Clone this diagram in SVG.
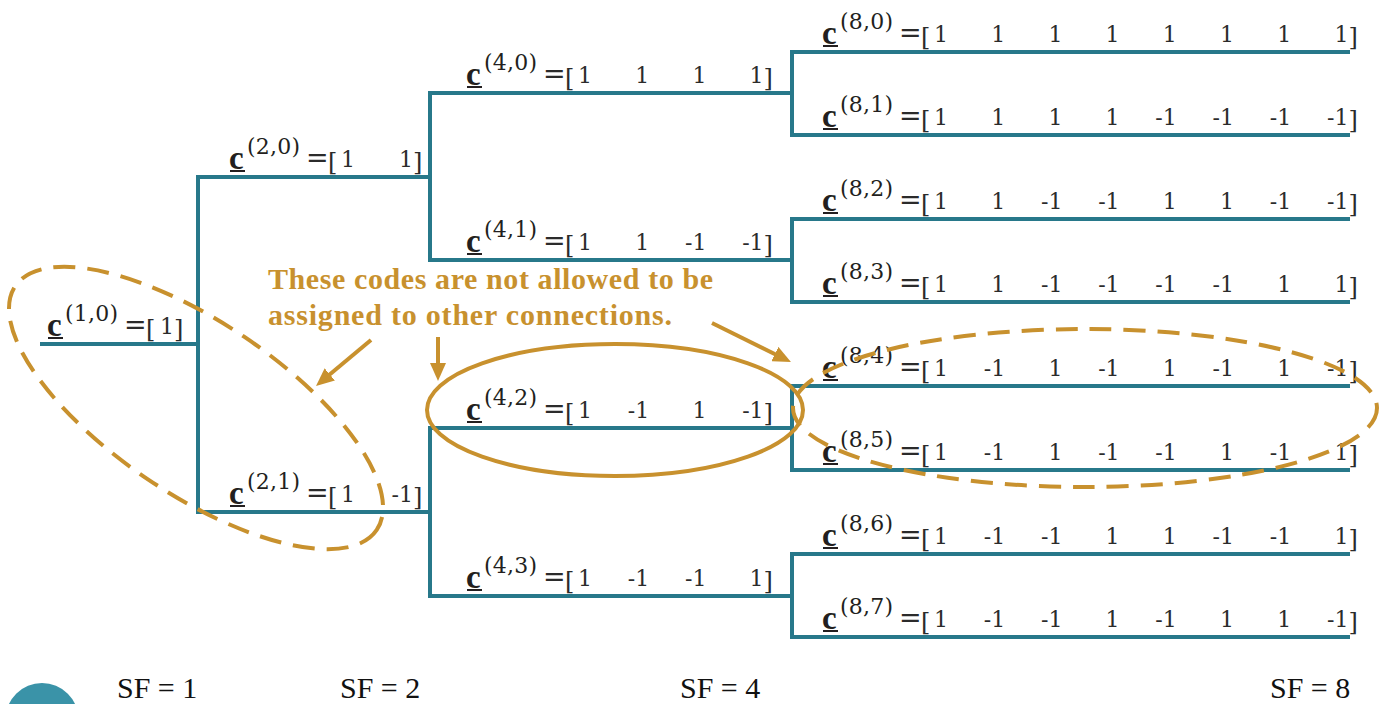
<svg xmlns="http://www.w3.org/2000/svg" width="1384" height="704" viewBox="0 0 1384 704">
<style>
.tree{fill:none;stroke:#27788a;stroke-width:4;stroke-linejoin:miter}
.c{font-family:"Liberation Serif","Times New Roman",serif;font-weight:bold;font-size:33px;fill:#231f20}
.ul{fill:#231f20}
.sup{font-family:"DejaVu Serif",serif;font-size:22px;fill:#231f20}
.eq{font-family:"DejaVu Serif",serif;font-size:27px;fill:#2b2b2b}
.br{font-family:"DejaVu Serif",serif;font-size:24px;fill:#2b2b2b}
.num{font-family:"DejaVu Serif",serif;font-size:22px;fill:#2b2b2b;text-anchor:end}
.note{font-family:"Liberation Serif","Times New Roman",serif;font-weight:bold;font-size:30px;fill:#c8912e}
.gold{fill:none;stroke:#c8912e;stroke-width:4}
.dash{stroke-dasharray:22 12}
.sf{font-family:"Liberation Serif","Times New Roman",serif;font-size:30px;fill:#111}
</style>
<defs>
<marker id="ah" markerUnits="userSpaceOnUse" markerWidth="18" markerHeight="16" refX="6" refY="8" orient="auto">
<path d="M0,0 L18,8 L0,16 z" fill="#c8912e"/>
</marker>
</defs>

<g id="connectors">
<path class="tree" d="M40,344 H198"/>
<path class="tree" d="M430,177 H198 V512 H430"/>
<path class="tree" d="M792,93 H430 V260 H792"/>
<path class="tree" d="M792,428 H430 V596 H792"/>
<path class="tree" d="M1350,52 H792 V135 H1350"/>
<path class="tree" d="M1350,219 H792 V302 H1350"/>
<path class="tree" d="M1350,386 H792 V470 H1350"/>
<path class="tree" d="M1350,554 H792 V637 H1350"/>
</g>

<g id="c1-0">
<text class="c" x="47" y="336">c</text><rect class="ul" x="48" y="337" width="15" height="2"/>
<text class="sup" x="65" y="321" textLength="53">(1,0)</text>
<text class="eq" x="124" y="334">=</text><text class="br" x="146" y="337">[</text>
<text class="num" y="334"><tspan x="174">1</tspan></text>
<text class="br" x="174" y="337">]</text>
</g>

<g id="c2-0">
<text class="c" x="229" y="169">c</text><rect class="ul" x="230" y="170" width="15" height="2"/>
<text class="sup" x="247" y="154" textLength="53">(2,0)</text>
<text class="eq" x="306" y="167">=</text><text class="br" x="328" y="170">[</text>
<text class="num" y="167"><tspan x="355">1</tspan><tspan x="413">1</tspan></text>
<text class="br" x="413" y="170">]</text>
</g>

<g id="c2-1">
<text class="c" x="229" y="504">c</text><rect class="ul" x="230" y="505" width="15" height="2"/>
<text class="sup" x="247" y="489" textLength="53">(2,1)</text>
<text class="eq" x="306" y="502">=</text><text class="br" x="328" y="505">[</text>
<text class="num" y="502"><tspan x="355">1</tspan><tspan x="413">-1</tspan></text>
<text class="br" x="413" y="505">]</text>
</g>

<g id="c4-0">
<text class="c" x="466" y="85">c</text><rect class="ul" x="467" y="86" width="15" height="2"/>
<text class="sup" x="484" y="70" textLength="53">(4,0)</text>
<text class="eq" x="543" y="83">=</text><text class="br" x="565" y="86">[</text>
<text class="num" y="83"><tspan x="592">1</tspan><tspan x="649.2">1</tspan><tspan x="706.4">1</tspan><tspan x="763.6">1</tspan></text>
<text class="br" x="763.6" y="86">]</text>
</g>

<g id="c4-1">
<text class="c" x="466" y="252">c</text><rect class="ul" x="467" y="253" width="15" height="2"/>
<text class="sup" x="484" y="237" textLength="53">(4,1)</text>
<text class="eq" x="543" y="250">=</text><text class="br" x="565" y="253">[</text>
<text class="num" y="250"><tspan x="592">1</tspan><tspan x="649.2">1</tspan><tspan x="706.4">-1</tspan><tspan x="763.6">-1</tspan></text>
<text class="br" x="763.6" y="253">]</text>
</g>

<g id="c4-2">
<text class="c" x="466" y="420">c</text><rect class="ul" x="467" y="421" width="15" height="2"/>
<text class="sup" x="484" y="405" textLength="53">(4,2)</text>
<text class="eq" x="543" y="418">=</text><text class="br" x="565" y="421">[</text>
<text class="num" y="418"><tspan x="592">1</tspan><tspan x="649.2">-1</tspan><tspan x="706.4">1</tspan><tspan x="763.6">-1</tspan></text>
<text class="br" x="763.6" y="421">]</text>
</g>

<g id="c4-3">
<text class="c" x="466" y="588">c</text><rect class="ul" x="467" y="589" width="15" height="2"/>
<text class="sup" x="484" y="573" textLength="53">(4,3)</text>
<text class="eq" x="543" y="586">=</text><text class="br" x="565" y="589">[</text>
<text class="num" y="586"><tspan x="592">1</tspan><tspan x="649.2">-1</tspan><tspan x="706.4">-1</tspan><tspan x="763.6">1</tspan></text>
<text class="br" x="763.6" y="589">]</text>
</g>

<g id="c8-0">
<text class="c" x="822" y="44">c</text><rect class="ul" x="823" y="45" width="15" height="2"/>
<text class="sup" x="840" y="29" textLength="53">(8,0)</text>
<text class="eq" x="899" y="42">=</text><text class="br" x="921" y="45">[</text>
<text class="num" y="42"><tspan x="948">1</tspan><tspan x="1005.2">1</tspan><tspan x="1062.4">1</tspan><tspan x="1119.6">1</tspan><tspan x="1176.8">1</tspan><tspan x="1234">1</tspan><tspan x="1291.2">1</tspan><tspan x="1348.4">1</tspan></text>
<text class="br" x="1348.4" y="45">]</text>
</g>

<g id="c8-1">
<text class="c" x="822" y="127">c</text><rect class="ul" x="823" y="128" width="15" height="2"/>
<text class="sup" x="840" y="112" textLength="53">(8,1)</text>
<text class="eq" x="899" y="125">=</text><text class="br" x="921" y="128">[</text>
<text class="num" y="125"><tspan x="948">1</tspan><tspan x="1005.2">1</tspan><tspan x="1062.4">1</tspan><tspan x="1119.6">1</tspan><tspan x="1176.8">-1</tspan><tspan x="1234">-1</tspan><tspan x="1291.2">-1</tspan><tspan x="1348.4">-1</tspan></text>
<text class="br" x="1348.4" y="128">]</text>
</g>

<g id="c8-2">
<text class="c" x="822" y="211">c</text><rect class="ul" x="823" y="212" width="15" height="2"/>
<text class="sup" x="840" y="196" textLength="53">(8,2)</text>
<text class="eq" x="899" y="209">=</text><text class="br" x="921" y="212">[</text>
<text class="num" y="209"><tspan x="948">1</tspan><tspan x="1005.2">1</tspan><tspan x="1062.4">-1</tspan><tspan x="1119.6">-1</tspan><tspan x="1176.8">1</tspan><tspan x="1234">1</tspan><tspan x="1291.2">-1</tspan><tspan x="1348.4">-1</tspan></text>
<text class="br" x="1348.4" y="212">]</text>
</g>

<g id="c8-3">
<text class="c" x="822" y="294">c</text><rect class="ul" x="823" y="295" width="15" height="2"/>
<text class="sup" x="840" y="279" textLength="53">(8,3)</text>
<text class="eq" x="899" y="292">=</text><text class="br" x="921" y="295">[</text>
<text class="num" y="292"><tspan x="948">1</tspan><tspan x="1005.2">1</tspan><tspan x="1062.4">-1</tspan><tspan x="1119.6">-1</tspan><tspan x="1176.8">-1</tspan><tspan x="1234">-1</tspan><tspan x="1291.2">1</tspan><tspan x="1348.4">1</tspan></text>
<text class="br" x="1348.4" y="295">]</text>
</g>

<g id="c8-4">
<text class="c" x="822" y="378">c</text><rect class="ul" x="823" y="379" width="15" height="2"/>
<text class="sup" x="840" y="363" textLength="53">(8,4)</text>
<text class="eq" x="899" y="376">=</text><text class="br" x="921" y="379">[</text>
<text class="num" y="376"><tspan x="948">1</tspan><tspan x="1005.2">-1</tspan><tspan x="1062.4">1</tspan><tspan x="1119.6">-1</tspan><tspan x="1176.8">1</tspan><tspan x="1234">-1</tspan><tspan x="1291.2">1</tspan><tspan x="1348.4">-1</tspan></text>
<text class="br" x="1348.4" y="379">]</text>
</g>

<g id="c8-5">
<text class="c" x="822" y="462">c</text><rect class="ul" x="823" y="463" width="15" height="2"/>
<text class="sup" x="840" y="447" textLength="53">(8,5)</text>
<text class="eq" x="899" y="460">=</text><text class="br" x="921" y="463">[</text>
<text class="num" y="460"><tspan x="948">1</tspan><tspan x="1005.2">-1</tspan><tspan x="1062.4">1</tspan><tspan x="1119.6">-1</tspan><tspan x="1176.8">-1</tspan><tspan x="1234">1</tspan><tspan x="1291.2">-1</tspan><tspan x="1348.4">1</tspan></text>
<text class="br" x="1348.4" y="463">]</text>
</g>

<g id="c8-6">
<text class="c" x="822" y="546">c</text><rect class="ul" x="823" y="547" width="15" height="2"/>
<text class="sup" x="840" y="531" textLength="53">(8,6)</text>
<text class="eq" x="899" y="544">=</text><text class="br" x="921" y="547">[</text>
<text class="num" y="544"><tspan x="948">1</tspan><tspan x="1005.2">-1</tspan><tspan x="1062.4">-1</tspan><tspan x="1119.6">1</tspan><tspan x="1176.8">1</tspan><tspan x="1234">-1</tspan><tspan x="1291.2">-1</tspan><tspan x="1348.4">1</tspan></text>
<text class="br" x="1348.4" y="547">]</text>
</g>

<g id="c8-7">
<text class="c" x="822" y="629">c</text><rect class="ul" x="823" y="630" width="15" height="2"/>
<text class="sup" x="840" y="614" textLength="53">(8,7)</text>
<text class="eq" x="899" y="627">=</text><text class="br" x="921" y="630">[</text>
<text class="num" y="627"><tspan x="948">1</tspan><tspan x="1005.2">-1</tspan><tspan x="1062.4">-1</tspan><tspan x="1119.6">1</tspan><tspan x="1176.8">-1</tspan><tspan x="1234">1</tspan><tspan x="1291.2">1</tspan><tspan x="1348.4">-1</tspan></text>
<text class="br" x="1348.4" y="630">]</text>
</g>

<g id="annotation">
<ellipse class="gold dash" cx="196" cy="408" rx="218" ry="86" transform="rotate(34 196 408)"/>
<ellipse class="gold" cx="615" cy="410" rx="188" ry="66"/>
<ellipse class="gold dash" cx="1085" cy="408" rx="292" ry="79"/>
<text class="note" x="268" y="289" textLength="445">These codes are not allowed to be</text>
<text class="note" x="268" y="325" textLength="404">assigned to other connections.</text>
<line class="gold" x1="371" y1="340" x2="325.2" y2="378.3" marker-end="url(#ah)"/>
<line class="gold" x1="438" y1="337" x2="438" y2="369" marker-end="url(#ah)"/>
<line class="gold" x1="712" y1="323" x2="780.2" y2="356.7" marker-end="url(#ah)"/>
</g>

<g id="sf-axis">
<circle cx="42" cy="719.5" r="36.5" fill="#3a93a8"/>
<text class="sf" x="117" y="698">SF = 1</text>
<text class="sf" x="340" y="698">SF = 2</text>
<text class="sf" x="680" y="698">SF = 4</text>
<text class="sf" x="1270" y="698">SF = 8</text>
</g>
</svg>
